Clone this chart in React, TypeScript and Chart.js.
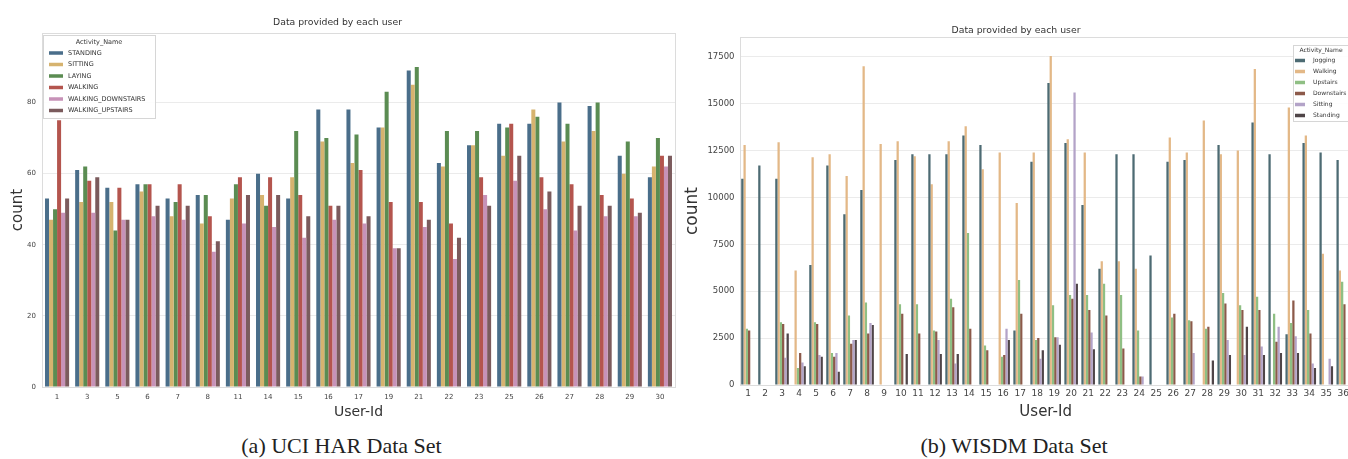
import React, { useEffect, useRef } from 'react';
import { Chart, registerables } from 'chart.js';

Chart.register(...registerables);

// ---------- (a) UCI HAR ----------
const uciUsers = ['1', '3', '5', '6', '7', '8', '11', '14', '15', '16', '17', '19', '21', '22', '23', '25', '26', '27', '28', '29', '30'];
const uciActivities = ['STANDING', 'SITTING', 'LAYING', 'WALKING', 'WALKING_DOWNSTAIRS', 'WALKING_UPSTAIRS'];
const uciStanding = [53, 61, 56, 57, 53, 54, 47, 60, 53, 78, 78, 73, 89, 63, 68, 74, 74, 80, 79, 65, 59];
const uciSitting = [47, 52, 52, 55, 48, 46, 53, 54, 59, 69, 63, 73, 85, 62, 68, 65, 78, 69, 72, 60, 62];
const uciLaying = [50, 62, 44, 57, 52, 54, 57, 51, 72, 70, 71, 83, 90, 72, 72, 73, 76, 74, 80, 69, 70];
const uciWalking = [75, 58, 56, 57, 57, 48, 59, 59, 54, 51, 61, 52, 52, 46, 59, 74, 59, 57, 54, 53, 65];
const uciWalkingDown = [49, 49, 47, 48, 47, 38, 46, 45, 42, 47, 46, 39, 45, 36, 54, 58, 50, 44, 48, 48, 62];
const uciWalkingUp = [53, 59, 47, 51, 51, 41, 54, 54, 48, 51, 48, 39, 47, 42, 51, 65, 55, 51, 51, 49, 65];
const uciColors = ['#4a6e8a', '#d6b36f', '#5b8c52', '#b4554e', '#c792b8', '#7b5b5d'];
const uciTicks = [0, 20, 40, 60, 80];

// ---------- (b) WISDM ----------
const wisdmUsers = Array.from({ length: 36 }, (_, i) => String(i + 1));
const wisdmActivities = ['Jogging', 'Walking', 'Upstairs', 'Downstairs', 'Sitting', 'Standing'];
const wisdmJogging = [11000, 11700, 11000, 0, 6400, 11700, 9100, 10400, 0, 12000, 12300, 12300, 12300, 13300, 12800, 0, 2900, 11900, 16100, 12900, 9600, 6200, 12300, 12300, 6900, 11900, 12000, 0, 12800, 0, 14000, 12300, 2700, 12900, 12400, 12000];
const wisdmWalking = [12800, 0, 12950, 6100, 12150, 12300, 11150, 17000, 12850, 13000, 12200, 10700, 13000, 13800, 11500, 12400, 9700, 12400, 17550, 13100, 12400, 6600, 6600, 6200, 0, 13200, 12400, 14100, 12300, 12500, 16850, 0, 14800, 13300, 7000, 6100];
const wisdmUpstairs = [3000, 0, 3350, 900, 3350, 1700, 3700, 4400, 0, 4300, 4300, 2900, 4600, 8100, 2100, 1500, 5600, 2400, 4250, 4800, 4800, 5400, 4800, 2900, 0, 3600, 3450, 3000, 4900, 4250, 4700, 3800, 3300, 4000, 0, 5500];
const wisdmDownstairs = [2900, 0, 3250, 1700, 3250, 1500, 2200, 2750, 0, 3800, 2750, 2850, 4150, 3000, 1850, 1600, 3800, 2500, 2550, 4600, 4000, 3700, 1950, 450, 0, 3800, 3400, 3100, 4350, 4000, 4000, 2300, 4500, 2750, 0, 4300];
const wisdmSitting = [0, 0, 1450, 1200, 1600, 1700, 2400, 3300, 0, 0, 0, 2400, 1150, 0, 0, 3000, 0, 1400, 2550, 15600, 2800, 0, 0, 450, 0, 0, 1700, 0, 2400, 1600, 2050, 3100, 2600, 1150, 1400, 0];
const wisdmStanding = [0, 0, 2750, 1000, 1500, 700, 2400, 3200, 0, 1650, 0, 1650, 1650, 0, 0, 2400, 0, 1850, 2150, 5400, 1900, 0, 0, 0, 0, 0, 0, 1300, 1600, 3100, 1600, 1700, 1700, 900, 1000, 0];
const wisdmColors = ['#4d6b73', '#e3b887', '#8fbf84', '#8c5a4a', '#b3a3c8', '#4f4548'];
const wisdmTicks = [0, 2500, 5000, 7500, 10000, 12500, 15000, 17500];

const chartTitle = 'Data provided by each user';
const legendTitle = 'Activity_Name';
const FONT = '"DejaVu Sans", sans-serif';

const framePlugin = {
  id: 'frame',
  afterDatasetsDraw(chart: any) {
    const { ctx, chartArea } = chart;
    ctx.save();
    ctx.strokeStyle = '#dcdcdc';
    ctx.lineWidth = 1;
    ctx.strokeRect(Math.round(chartArea.left) + 0.5, Math.round(chartArea.top) + 0.5,
      Math.round(chartArea.right - chartArea.left), Math.round(chartArea.bottom - chartArea.top));
    ctx.restore();
  },
};

const boxLegendPlugin = {
  id: 'boxLegend',
  afterDraw(chart: any, _args: any, o: any) {
    if (!o || !o.display) return;
    const ctx = chart.ctx;
    ctx.save();
    ctx.fillStyle = 'rgba(255,255,255,0.9)';
    ctx.fillRect(o.x, o.y, o.w, o.h);
    ctx.strokeStyle = '#d6d6d6';
    ctx.lineWidth = 1;
    ctx.strokeRect(o.x + 0.5, o.y + 0.5, o.w, o.h);
    ctx.fillStyle = '#333';
    ctx.font = `${o.fontSize}px ${FONT}`;
    ctx.textAlign = 'center';
    ctx.textBaseline = 'middle';
    ctx.fillText(o.title, o.titleX, o.titleY);
    ctx.textAlign = 'left';
    chart.data.datasets.forEach((ds: any, i: number) => {
      const y = o.firstY + i * o.row;
      ctx.fillStyle = ds.backgroundColor;
      ctx.fillRect(o.swatchX, y - o.swatchH / 2, o.swatchW, o.swatchH);
      ctx.fillStyle = '#333';
      ctx.fillText(ds.label, o.textX, y);
    });
    ctx.restore();
  },
};

function makeConfig(p: any) {
  return {
    type: 'bar',
    data: {
      labels: p.labels,
      datasets: p.series.map((s: number[], i: number) => ({
        label: p.names[i],
        data: s,
        backgroundColor: p.colors[i],
        borderWidth: 0,
        categoryPercentage: 0.8,
        barPercentage: 1.0,
      })),
    },
    options: {
      responsive: false,
      animation: false,
      devicePixelRatio: 1,
      layout: { padding: p.padding },
      plugins: {
        legend: { display: false },
        tooltip: { enabled: false },
        title: {
          display: true,
          text: chartTitle,
          color: '#333',
          font: { family: FONT, size: 9.3, weight: 'normal' },
          padding: p.titlePadding,
        },
        boxLegend: p.legend,
      },
      scales: {
        x: {
          type: 'category',
          grid: { display: false, drawTicks: false },
          border: { display: false },
          ticks: {
            autoSkip: false,
            maxRotation: 0,
            color: '#444',
            font: { family: FONT, size: p.xTickSize },
            padding: p.xTickPad,
          },
          title: {
            display: true,
            text: 'User-Id',
            color: '#333',
            font: { family: FONT, size: p.xTitleSize },
            padding: { top: 0, bottom: p.xTitlePad },
          },
          afterFit: (scale: any) => { scale.height = p.xHeight; },
        },
        y: {
          min: 0,
          max: p.yMax,
          grid: { color: '#ebebeb', drawTicks: false, lineWidth: 1 },
          border: { display: false },
          ticks: {
            color: '#444',
            font: { family: FONT, size: p.yTickSize },
            padding: p.yTickPad,
            callback: (v: any) => String(v),
          },
          afterBuildTicks: (scale: any) => {
            scale.ticks = p.yTicks.map((v: number) => ({ value: v }));
          },
          title: {
            display: true,
            text: 'count',
            color: '#333',
            font: { family: FONT, size: p.yTitleSize },
            padding: { top: p.yTitlePad, bottom: 0 },
          },
          afterFit: (scale: any) => { scale.width = p.yWidth; },
        },
      },
    },
    plugins: [framePlugin, boxLegendPlugin],
  };
}

function BarChart({ width, height, params, style }: any) {
  const ref = useRef<HTMLCanvasElement | null>(null);
  useEffect(() => {
    if (!ref.current) return;
    const chart = new Chart(ref.current, makeConfig(params) as any);
    return () => chart.destroy();
  }, []);
  return <canvas ref={ref} width={width} height={height} style={{ position: 'absolute', width, height, ...style }} />;
}

const uciParams = {
  labels: uciUsers,
  names: uciActivities,
  series: [uciStanding, uciSitting, uciLaying, uciWalking, uciWalkingDown, uciWalkingUp],
  colors: uciColors,
  padding: { left: 0, right: 5, top: 0, bottom: 0 },
  titlePadding: { top: 17, bottom: 5 },
  xTickSize: 7,
  xTickPad: 6,
  xTitleSize: 14,
  xTitlePad: 4,
  xHeight: 38,
  yMax: 99.5,
  yTicks: uciTicks,
  yTickSize: 7,
  yTickPad: 6,
  yTitleSize: 15,
  yTitlePad: 9,
  yWidth: 42,
  legend: {
    display: true, title: legendTitle,
    x: 43, y: 35, w: 112, h: 83,
    titleX: 99, titleY: 42,
    firstY: 53, row: 11.5,
    swatchX: 49, swatchW: 14, swatchH: 3.5,
    textX: 68, fontSize: 6.5,
  },
};

const wisdmParams = {
  labels: wisdmUsers,
  names: wisdmActivities,
  series: [wisdmJogging, wisdmWalking, wisdmUpstairs, wisdmDownstairs, wisdmSitting, wisdmStanding],
  colors: wisdmColors,
  padding: { left: 0, right: 0, top: 0, bottom: 0 },
  titlePadding: { top: 25, bottom: 1 },
  xTickSize: 9,
  xTickPad: 3,
  xTitleSize: 15,
  xTitlePad: 4,
  xHeight: 40,
  yMax: 18550,
  yTicks: wisdmTicks,
  yTickSize: 8.5,
  yTickPad: 5,
  yTitleSize: 17,
  yTitlePad: 2,
  yWidth: 59.5,
  legend: {
    display: true, title: legendTitle,
    x: 613, y: 45, w: 70, h: 76,
    titleX: 641, titleY: 50.5,
    firstY: 60.5, row: 11,
    swatchX: 615, swatchW: 10, swatchH: 3.5,
    textX: 633, fontSize: 6,
  },
};

const captionStyle: React.CSSProperties = {
  position: 'absolute',
  top: 434,
  fontFamily: '"Liberation Serif", "Times New Roman", serif',
  fontSize: 22,
  lineHeight: '24px',
  color: '#222',
  whiteSpace: 'nowrap',
  transform: 'translateX(-50%)',
};

export default function App() {
  return (
    <div style={{ position: 'fixed', left: 0, top: 0, width: 1348, height: 459, overflow: 'hidden', background: '#fff' }}>
      <BarChart width={680} height={425} params={uciParams} style={{ left: 0, top: 0 }} />
      <BarChart width={672} height={425} params={wisdmParams} style={{ left: 680, top: 0 }} />
      <div style={{ ...captionStyle, left: 341.5 }}>(a) UCI HAR Data Set</div>
      <div style={{ ...captionStyle, left: 1014 }}>(b) WISDM Data Set</div>
    </div>
  );
}
